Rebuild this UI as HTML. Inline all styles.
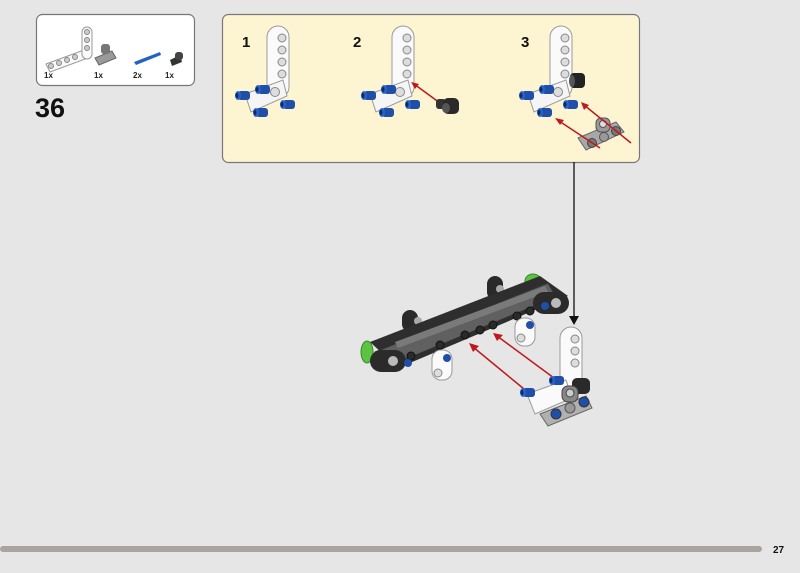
<!DOCTYPE html>
<html><head><style>
html,body{margin:0;padding:0;background:#e6e6e6;}
body{width:800px;height:568px;overflow:hidden;font-family:"Liberation Sans",sans-serif;}
</style></head><body>
<svg width="800" height="568" xmlns="http://www.w3.org/2000/svg" font-family="Liberation Sans, sans-serif">
<defs>
<g id="lbeam">
  <!-- vertical arm -->
  <rect x="-10" y="-60" width="22" height="72" rx="11" fill="#fafafa" stroke="#9a9a9a" stroke-width="1"/>
  <circle cx="5" cy="-48" r="4" fill="#ddd" stroke="#888"/>
  <circle cx="5" cy="-36" r="4" fill="#ddd" stroke="#888"/>
  <circle cx="5" cy="-24" r="4" fill="#ddd" stroke="#888"/>
  <circle cx="5" cy="-12" r="4" fill="#ddd" stroke="#888"/>
  <!-- horizontal arm -->
  <polygon points="-32,8 6,-6 10,10 -26,26" fill="#f5f5f5" stroke="#9a9a9a"/>
  <circle cx="-2" cy="6" r="4.5" fill="#ddd" stroke="#888"/>
</g>
<g id="pin">
  <rect x="-6" y="-4" width="12" height="9" rx="3" fill="#1f4fa8"/>
  <ellipse cx="-6" cy="0.5" rx="3" ry="4.5" fill="#2a62c9"/>
  <ellipse cx="-7" cy="0.5" rx="1.5" ry="2.5" fill="#0d2b66"/>
</g>
</defs>

<!-- parts box -->
<rect x="36.5" y="14.5" width="158" height="71" rx="6" fill="#fff" stroke="#777" stroke-width="1.2"/>
<g transform="translate(0,0)">
  <polygon points="46,64 84,50 88,58 50,72" fill="#fafafa" stroke="#999"/>
  <rect x="82" y="27" width="10" height="32" rx="5" fill="#fafafa" stroke="#999"/>
  <circle cx="51" cy="66" r="2.5" fill="#ccc" stroke="#888"/><circle cx="59" cy="63" r="2.5" fill="#ccc" stroke="#888"/>
  <circle cx="67" cy="60" r="2.5" fill="#ccc" stroke="#888"/><circle cx="75" cy="57" r="2.5" fill="#ccc" stroke="#888"/>
  <circle cx="87" cy="32" r="2.5" fill="#ccc" stroke="#888"/><circle cx="87" cy="40" r="2.5" fill="#ccc" stroke="#888"/>
  <circle cx="87" cy="48" r="2.5" fill="#ccc" stroke="#888"/>
  <polygon points="95,58 112,51 116,58 99,65" fill="#9a9a9a" stroke="#666"/>
  <rect x="101" y="44" width="9" height="10" rx="3" fill="#777"/>
  <polygon points="134,62 160,52 161,55 136,65" fill="#2062c8"/>
  <polygon points="170,60 180,55 182,62 172,66" fill="#333"/>
  <rect x="175" y="52" width="8" height="8" rx="3" fill="#444"/>
</g>
<g font-size="8" font-weight="bold" fill="#222">
  <text x="44" y="78">1x</text><text x="94" y="78">1x</text><text x="133" y="78">2x</text><text x="165" y="78">1x</text>
</g>
<text x="35" y="117" font-size="27" font-weight="bold" fill="#111">36</text>

<!-- callout -->
<rect x="222.5" y="14.5" width="417" height="148" rx="6" fill="#fdf5d2" stroke="#777" stroke-width="1.2"/>
<g font-size="15" font-weight="bold" fill="#111">
  <text x="242" y="47">1</text><text x="353" y="47">2</text><text x="521" y="47">3</text>
</g>
<g transform="translate(277,86)"><use href="#lbeam"/></g>
<g transform="translate(244,95)"><use href="#pin"/></g>
<g transform="translate(264,89)"><use href="#pin"/></g>
<g transform="translate(262,112)"><use href="#pin"/></g>
<g transform="translate(289,104)"><use href="#pin"/></g>

<g transform="translate(402,86)"><use href="#lbeam"/></g>
<g transform="translate(370,95)"><use href="#pin"/></g>
<g transform="translate(390,89)"><use href="#pin"/></g>
<g transform="translate(388,112)"><use href="#pin"/></g>
<g transform="translate(414,104)"><use href="#pin"/></g>
<line x1="440" y1="103" x2="414" y2="84" stroke="#c0181d" stroke-width="1.5"/>
<polygon points="411,82 419,84 415,89" fill="#c0181d"/>
<rect x="436" y="99" width="10" height="10" rx="3" fill="#333"/>
<rect x="443" y="98" width="16" height="16" rx="5" fill="#2a2a2a"/>
<ellipse cx="446" cy="108" rx="4" ry="5" fill="#555"/>

<g transform="translate(560,86)"><use href="#lbeam"/></g>
<g transform="translate(528,95)"><use href="#pin"/></g>
<g transform="translate(548,89)"><use href="#pin"/></g>
<g transform="translate(546,112)"><use href="#pin"/></g>
<g transform="translate(572,104)"><use href="#pin"/></g>
<rect x="570" y="73" width="15" height="15" rx="4" fill="#222"/>
<ellipse cx="572" cy="81" rx="3" ry="6" fill="#555"/>
<polygon points="578,138 616,122 624,132 586,150" fill="#a8a8a8" stroke="#666"/>
<circle cx="592" cy="143" r="4.5" fill="#777" stroke="#444"/><circle cx="604" cy="137" r="4.5" fill="#999" stroke="#555"/><circle cx="616" cy="131" r="4.5" fill="#777" stroke="#444"/>
<rect x="596" y="118" width="14" height="14" rx="5" fill="#999" stroke="#555"/>
<circle cx="603" cy="124" r="3.5" fill="#ddd" stroke="#555"/>
<g stroke="#c0181d" stroke-width="1.5">
  <line x1="600" y1="148" x2="559" y2="121"/>
  <line x1="631" y1="143" x2="584" y2="105"/>
</g>
<polygon points="555,118 564,120 560,125" fill="#c0181d"/>
<polygon points="581,102 589,105 584,110" fill="#c0181d"/>

<!-- connector arrow -->
<line x1="574" y1="162" x2="574" y2="318" stroke="#111" stroke-width="1.3"/>
<polygon points="569,316 579,316 574,325" fill="#111"/>

<!-- main assembly -->
<ellipse cx="367" cy="352" rx="6" ry="11" fill="#5cc243" stroke="#3a8a2a"/>
<ellipse cx="533" cy="281" rx="8" ry="7" fill="#5cc243" stroke="#3a8a2a"/>
<rect x="402" y="310" width="16" height="22" rx="8" fill="#2a2a2a"/>
<circle cx="418" cy="321" r="4" fill="#aaa"/>
<rect x="487" y="276" width="16" height="24" rx="8" fill="#2a2a2a"/>
<circle cx="500" cy="289" r="4" fill="#aaa"/>
<polygon points="370,342 540,276 568,296 398,368" fill="#2e2e2e"/>
<polygon points="375,352 548,283 556,297 382,369" fill="#606060" stroke="#333"/>
<polygon points="395,342 545,286 548,292 398,348" fill="#7a7a7a"/>
<g fill="#2a2a2a" stroke="#111">
  <circle cx="411" cy="356" r="4"/><circle cx="440" cy="345" r="4"/><circle cx="465" cy="335" r="4"/>
  <circle cx="480" cy="330" r="4"/><circle cx="493" cy="325" r="4"/><circle cx="517" cy="316" r="4"/><circle cx="530" cy="311" r="4"/>
</g>
<rect x="370" y="350" width="36" height="22" rx="11" fill="#2b2b2b"/>
<circle cx="393" cy="361" r="5" fill="#bbb"/><circle cx="408" cy="363" r="4" fill="#1f4fa8"/>
<rect x="533" y="292" width="36" height="22" rx="11" fill="#2b2b2b"/>
<circle cx="556" cy="303" r="5" fill="#bbb"/><circle cx="545" cy="306" r="4" fill="#1f4fa8"/>
<rect x="432" y="350" width="20" height="30" rx="9" fill="#fafafa" stroke="#999"/>
<circle cx="438" cy="373" r="4" fill="#ddd" stroke="#888"/>
<circle cx="447" cy="358" r="4" fill="#1f4fa8"/>
<rect x="515" y="318" width="20" height="28" rx="9" fill="#fafafa" stroke="#999"/>
<circle cx="521" cy="338" r="4" fill="#ddd" stroke="#888"/>
<circle cx="530" cy="325" r="4" fill="#1f4fa8"/>

<g stroke="#c0181d" stroke-width="1.5">
  <line x1="524" y1="389" x2="473" y2="347"/>
  <line x1="554" y1="378" x2="497" y2="336"/>
</g>
<polygon points="469,343 479,346 473,352" fill="#c0181d"/>
<polygon points="493,333 503,335 497,341" fill="#c0181d"/>

<!-- right sub-assembly -->
<rect x="560" y="327" width="22" height="70" rx="11" fill="#fafafa" stroke="#999"/>
<circle cx="575" cy="339" r="4" fill="#ddd" stroke="#888"/><circle cx="575" cy="351" r="4" fill="#ddd" stroke="#888"/><circle cx="575" cy="363" r="4" fill="#ddd" stroke="#888"/>
<polygon points="527,394 566,380 572,398 535,414" fill="#fafafa" stroke="#999"/>
<g transform="translate(529,392)"><use href="#pin"/></g>
<g transform="translate(558,380)"><use href="#pin"/></g>
<rect x="572" y="378" width="18" height="16" rx="5" fill="#2a2a2a"/>
<polygon points="540,414 586,396 592,408 548,426" fill="#b0b0b0" stroke="#666"/>
<circle cx="556" cy="414" r="5" fill="#1f4fa8" stroke="#333"/><circle cx="570" cy="408" r="5" fill="#999" stroke="#555"/><circle cx="584" cy="402" r="5" fill="#1f4fa8" stroke="#333"/>
<rect x="562" y="386" width="16" height="16" rx="6" fill="#888" stroke="#444"/>
<circle cx="570" cy="393" r="4" fill="#ccc" stroke="#444"/>

<!-- footer -->
<rect x="0" y="546" width="762" height="6" rx="3" fill="#aaa49f"/>
<text x="773" y="553" font-size="10" font-weight="bold" fill="#111">27</text>
</svg>
</body></html>
